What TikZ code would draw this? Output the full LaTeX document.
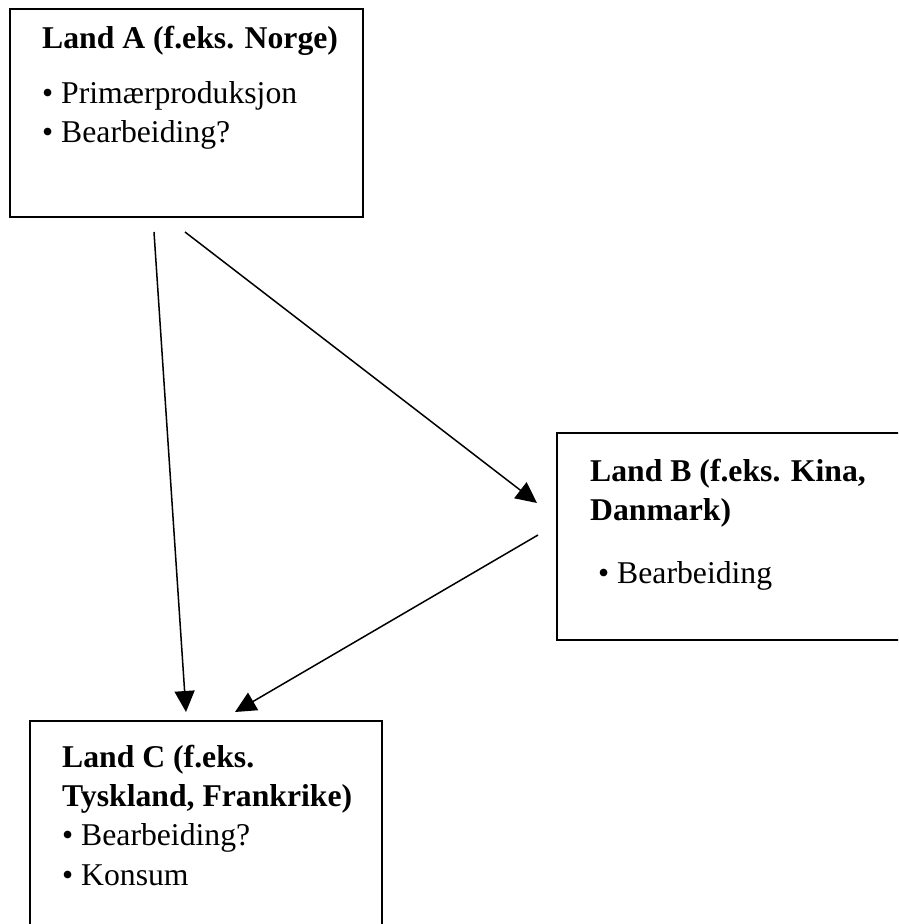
\documentclass[tikz,border=0pt]{standalone}
\usepackage{fontspec}
\setmainfont{Liberation Serif}
\usetikzlibrary{arrows.meta}
\tikzset{
  box/.style={draw=black, line width=2pt, anchor=north west, inner sep=0pt, fill=none},
  txt/.style={anchor=base west, inner sep=0pt, font=\fontsize{31.7}{38}\selectfont},
  ttl/.style={txt, font=\fontsize{31.7}{38}\selectfont\bfseries},
  conn/.style={line width=1.5pt, -{Triangle[length=21pt, width=20pt]}}
}
\begin{document}
\begin{tikzpicture}[x=1pt,y=-1pt]
\useasboundingbox (0,0) rectangle (898,924);
\clip (0,0) rectangle (898,924);
% boxes
\node[box, minimum width=353pt, minimum height=208pt] (A) at (9,8) {};
\node[box, minimum width=354pt, minimum height=207pt] (B) at (556,432) {};
\node[box, minimum width=352pt, minimum height=230pt] (C) at (29,720) {};
% texts
\node[ttl] (A1) at (42,48) {Land A (f.eks. Norge)};
\node[txt] (A2) at (42,103) {• Primærproduksjon};
\node[txt] (A3) at (42,142) {• Bearbeiding?};
\node[ttl] (B1) at (590,481) {Land B (f.eks. Kina,};
\node[ttl] (B2) at (590,520) {Danmark)};
\node[txt] (B3) at (598,583) {• Bearbeiding};
\node[ttl] (C1) at (62,767) {Land C (f.eks.};
\node[ttl] (C2) at (62,806) {Tyskland, Frankrike)};
\node[txt] (C3) at (62,845) {• Bearbeiding?};
\node[txt] (C4) at (62,885) {• Konsum};
% connector ends
\coordinate (s1) at (154,232);
\coordinate (e1) at (186,712);
\coordinate (s2) at (185,232);
\coordinate (e2) at (537,503);
\coordinate (s3) at (538,535);
\coordinate (e3) at (235,712);
\draw[conn] (s1) -- (e1);
\draw[conn] (s2) -- (e2);
\draw[conn] (s3) -- (e3);
\end{tikzpicture}
\end{document}
